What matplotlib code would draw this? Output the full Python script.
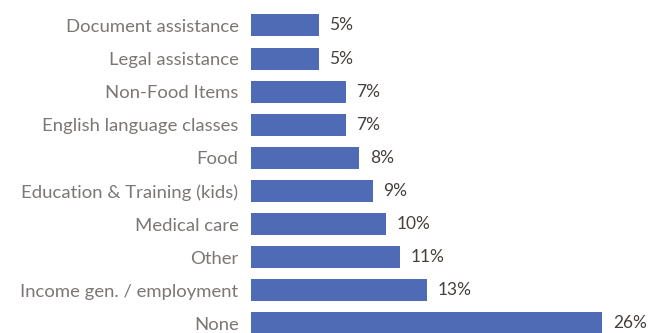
import matplotlib.pyplot as plt

categories = ["Document assistance", "Legal assistance", "Non-Food Items",
              "English language classes", "Food", "Education & Training (kids)",
              "Medical care", "Other", "Income gen. / employment", "None"]
values = [5, 5, 7, 7, 8, 9, 10, 11, 13, 26]

bar_color = "#4F6BB5"
label_color = "#7A7774"
value_color = "#45403C"

plt.rcParams['font.family'] = ['Lato', 'DejaVu Sans']

fig = plt.figure(figsize=(6.58, 3.33), dpi=100)
ax = fig.add_axes([251 / 658, 0, 407 / 658, 1])

pos = list(range(len(categories)))
ax.barh(pos, values, height=0.665, color=bar_color)

for p, v in zip(pos, values):
    ax.text(v + 0.8, p, f"{v}%", va="center", ha="left", fontsize=12.5, color=value_color)

ax.set_yticks(pos)
ax.set_yticklabels(categories, fontsize=13.3, color=label_color)
ax.tick_params(axis="y", length=0, pad=9)
ax.set_xticks([])
ax.set_xlim(0, 407 / 13.5)
ax.set_ylim(9.29, -0.77)
for s in ax.spines.values():
    s.set_visible(False)

fig.savefig("out.png", dpi=100)
